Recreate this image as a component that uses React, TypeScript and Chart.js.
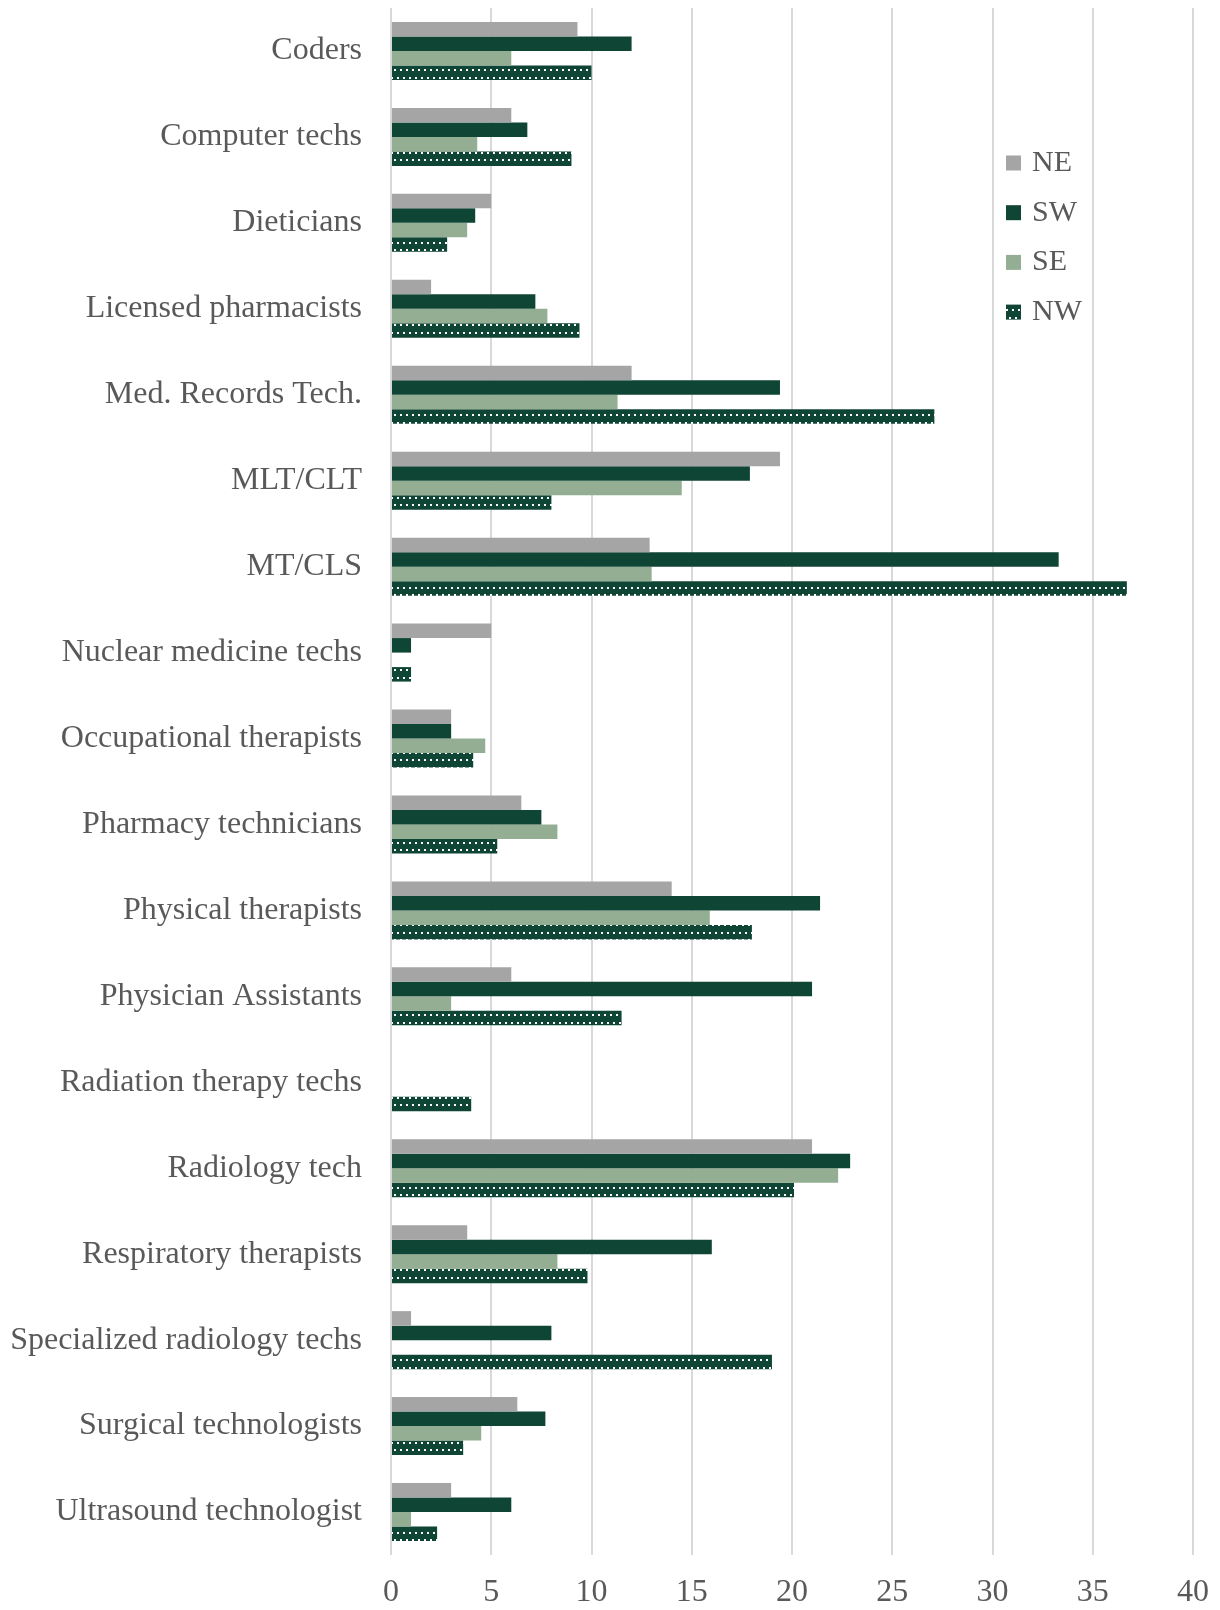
import React, { useEffect, useRef } from "react";
import { Chart, registerables } from "chart.js";

Chart.register(...registerables);

const categories = [
  "Coders",
  "Computer techs",
  "Dieticians",
  "Licensed pharmacists",
  "Med. Records Tech.",
  "MLT/CLT",
  "MT/CLS",
  "Nuclear medicine techs",
  "Occupational therapists",
  "Pharmacy technicians",
  "Physical therapists",
  "Physician Assistants",
  "Radiation therapy techs",
  "Radiology tech",
  "Respiratory therapists",
  "Specialized radiology techs",
  "Surgical technologists",
  "Ultrasound technologist",
];

const seriesNames = ["NE", "SW", "SE", "NW"];

const neValues = [9.3, 6, 5, 2, 12, 19.4, 12.9, 5, 3, 6.5, 14, 6, 0, 21, 3.8, 1, 6.3, 3];
const swValues = [12, 6.8, 4.2, 7.2, 19.4, 17.9, 33.3, 1, 3, 7.5, 21.4, 21, 0, 22.9, 16, 8, 7.7, 6];
const seValues = [6, 4.3, 3.8, 7.8, 11.3, 14.5, 13, 0, 4.7, 8.3, 15.9, 3, 0, 22.3, 8.3, 0, 4.5, 1];
const nwValues = [10, 9, 2.8, 9.4, 27.1, 8, 36.7, 1, 4.1, 5.3, 18, 11.5, 4, 20.1, 9.8, 19, 3.6, 2.3];

const xMin = 0;
const xMax = 40;
const xStep = 5;

const FONT = '"Liberation Serif", "Times New Roman", serif';
const TEXT = "#595959";

function makePattern(): CanvasPattern | string {
  const c = document.createElement("canvas");
  c.width = 6;
  c.height = 15;
  const g = c.getContext("2d");
  if (!g) return "#0f4534";
  g.fillStyle = "#0f4534";
  g.fillRect(0, 0, 6, 15);
  g.fillStyle = "#ffffff";
  g.fillRect(1, 2, 2, 2);
  g.fillRect(4, 9, 2, 2);
  const p = g.createPattern(c, "repeat");
  return p || "#0f4534";
}

const legendPlugin = {
  id: "insideLegend",
  afterDraw(chart: any) {
    const ctx = chart.ctx;
    const ds = chart.data.datasets;
    ctx.save();
    ctx.font = `30px ${FONT}`;
    ctx.textBaseline = "middle";
    ctx.textAlign = "left";
    ds.forEach((d: any, i: number) => {
      const cy = 163 + i * 49.7;
      ctx.fillStyle = d.backgroundColor;
      ctx.fillRect(1006, cy - 7.5, 15, 15);
      ctx.fillStyle = TEXT;
      ctx.fillText(d.label, 1032, cy);
    });
    ctx.restore();
  },
};

export default function App() {
  const ref = useRef<HTMLCanvasElement | null>(null);

  useEffect(() => {
    if (!ref.current) return;
    const pattern = makePattern();
    const colors = ["#a5a5a5", "#0f4534", "#93ae92", pattern];
    const values = [neValues, swValues, seValues, nwValues];
    const chart = new Chart(ref.current, {
      type: "bar",
      data: {
        labels: categories,
        datasets: seriesNames.map((name, i) => ({
          label: name,
          data: values[i],
          backgroundColor: colors[i] as any,
          borderWidth: 0,
          categoryPercentage: 0.675,
          barPercentage: 1,
        })),
      },
      options: {
        indexAxis: "y",
        animation: false,
        responsive: false,
        maintainAspectRatio: false,
        layout: { padding: { top: 8, right: 27, left: 0, bottom: 0 } },
        plugins: {
          legend: { display: false },
          tooltip: { enabled: false },
        },
        scales: {
          x: {
            min: xMin,
            max: xMax,
            ticks: {
              stepSize: xStep,
              color: TEXT,
              font: { family: FONT, size: 32 },
              padding: 18,
            },
            grid: { color: "#d9d9d9", lineWidth: 2, drawTicks: false },
            border: { display: false },
            afterFit(scale: any) {
              scale.height = 55;
              scale.paddingLeft = 0;
              scale.paddingRight = 0;
              scale.paddingTop = 0;
              scale.paddingBottom = 0;
            },
          },
          y: {
            ticks: {
              color: TEXT,
              font: { family: FONT, size: 32 },
              padding: 29,
            },
            grid: { display: false, drawTicks: false },
            border: { display: false },
            afterFit(scale: any) {
              scale.width = 391;
              scale.paddingLeft = 0;
              scale.paddingRight = 0;
              scale.paddingTop = 0;
              scale.paddingBottom = 0;
            },
          },
        },
      },
      plugins: [legendPlugin],
    });
    return () => chart.destroy();
  }, []);

  return (
    <div style={{ position: "absolute", left: 0, top: 0, width: 1220, height: 1610, background: "#fff" }}>
      <canvas ref={ref} width={1220} height={1610} style={{ display: "block" }} />
    </div>
  );
}
